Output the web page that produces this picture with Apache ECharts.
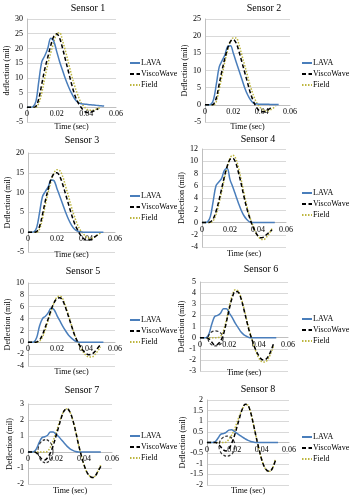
<!DOCTYPE html>
<html>
<head>
<meta charset="utf-8">
<script src="https://cdn.jsdelivr.net/npm/echarts@6/dist/echarts.min.js"></script>
<style>
  html, body {margin: 0; padding: 0; background: #fff;}
  #chart {width: 352px; height: 500px;}
</style>
</head>
<body>
<div id="chart"></div>
<script>
// time axis (sec)
const time = [0, 0.002, 0.004, 0.006, 0.008, 0.010, 0.012, 0.014, 0.016, 0.018, 0.020, 0.022, 0.024, 0.026,
  0.028, 0.030, 0.032, 0.034, 0.036, 0.038, 0.040, 0.042, 0.044, 0.046, 0.048, 0.050, 0.052];

const sensorNames = ['Sensor 1', 'Sensor 2', 'Sensor 3', 'Sensor 4', 'Sensor 5', 'Sensor 6', 'Sensor 7', 'Sensor 8'];
const legendNames = ['LAVA', 'ViscoWave', 'Field'];
const xAxisName = 'Time (sec)';
const yAxisNames = ['deflection (mil)', 'Deflection (mil)', 'Deflection (mil)', 'Deflection (mil)',
  'Deflection (mil)', 'Deflection (mil)', 'Deflection (mil)', 'Deflection (mil)'];
const yMin = [-5, -5, -5, -4, -4, -3, -2, -2];
const yMax = [30, 25, 20, 12, 10, 5, 3, 2];
const yStep = [5, 5, 5, 2, 2, 1, 1, 0.5];

// deflection (mil)
const lava1 = [0, 0, 0.2, 2, 9, 15.5, 17.5, 20, 23.5, 22.5, 19, 15.5, 12.5, 9.5, 7, 4.8, 3, 1.8, 1.3, 1.1, 1, 0.9, 0.8, 0.7, 0.6, 0.5, 0.4];
const visco1 = [0, 0, 0, 0.3, 3, 8, 13, 17, 21, 24, 25, 23.5, 20, 16, 12, 8, 4.5, 2, 0.3, -1, -1.7, -1.8, -1.5, -1, -0.5, null, null];
const field1 = [0, 0, 0, 0, 1.5, 5, 10, 14.5, 18.5, 22, 25, 25.3, 22.5, 19, 15, 11, 7.5, 4.5, 2, 0.5, -0.5, -1, -1, -0.8, -0.4, 0, null];

const lava2 = [0, 0, 0.1, 1.5, 6, 11, 12.8, 14.5, 17, 17.2, 15, 12.5, 10, 7.5, 5, 3, 1.5, 0.6, 0.3, 0.2, 0.2, 0.2, 0.2, 0.1, 0.1, 0.1, 0.1];
const visco2 = [0, 0, 0, 0.2, 2, 6, 10, 13.5, 16.5, 18.5, 19, 18, 15.5, 12.5, 9.5, 6.5, 3.5, 1.2, -0.5, -1.6, -2, -2, -1.6, -1, -0.5, null, null];
const field2 = [0, 0, 0, 0, 1, 4.5, 8.5, 12.5, 16, 18.5, 19.5, 19.5, 17.5, 14.5, 11.5, 8.5, 5.5, 3, 1, -0.3, -1.2, -1.7, -1.8, -1.5, -1, -0.4, null];

const lava3 = [0, 0, 0.1, 1.2, 5, 9, 10.3, 11.5, 13.2, 13, 11, 9, 7, 5, 3.2, 1.8, 0.8, 0.3, 0.1, 0, 0, 0, 0, 0, 0, 0, 0];
const visco3 = [0, 0, 0, 0.2, 1.5, 4.5, 8, 11, 13.5, 14.8, 15, 14, 12, 9.5, 7, 4.5, 2.3, 0.7, -0.6, -1.5, -2, -2, -1.7, -1.2, -0.7, null, null];
const field3 = [0, 0, 0, 0, 0.8, 3.5, 7, 10.2, 13, 15, 15.8, 15.5, 14, 11.5, 9, 6.3, 4, 2, 0.6, -0.4, -1.1, -1.5, -1.5, -1.2, -0.7, -0.2, null];

const lava4 = [0, 0, 0.1, 1, 3.5, 6, 6.6, 7.2, 8.5, 8.8, 7, 5.8, 4.5, 3.2, 2, 1.1, 0.5, 0.1, 0, 0, 0, 0, 0, 0, 0, 0, 0];
const visco4 = [0, 0, 0, 0.1, 0.6, 1.8, 3.5, 5.5, 7.5, 9.2, 10.3, 10.5, 9.8, 8.2, 6.3, 4.2, 2.3, 0.8, -0.5, -1.5, -2.2, -2.5, -2.4, -2, -1.6, -1.2, null];
const field4 = [0, 0, 0, 0, 0.3, 1.3, 3, 5, 7.2, 9, 10.5, 11, 10.5, 9, 7, 4.8, 2.7, 1, -0.3, -1.4, -2.2, -2.7, -2.8, -2.4, -1.8, -1, null];

const lava5 = [0, 0, 0.05, 0.8, 2.8, 4, 4.4, 5, 5.8, 5.5, 4.5, 3.6, 2.7, 1.9, 1.2, 0.7, 0.3, 0.1, 0, 0, 0, 0, 0, 0, 0, 0, 0];
const visco5 = [0, 0, 0, 0.05, 0.4, 1.3, 2.6, 4, 5.5, 6.7, 7.4, 7.5, 7, 5.8, 4.3, 2.8, 1.3, 0.2, -0.7, -1.4, -1.9, -2.1, -2, -1.6, -1, -0.4, null];
const field5 = [0, 0, 0, 0, 0.2, 0.9, 2.2, 3.8, 5.3, 6.7, 7.6, 7.8, 7.3, 6, 4.5, 2.9, 1.4, 0.2, -0.8, -1.6, -2.2, -2.5, -2.5, -2.1, -1.5, -0.8, null];

const lava6 = [0, 0, 0, 0.3, 1.2, 1.9, 2, 2.2, 2.6, 2.6, 2.2, 1.8, 1.3, 0.9, 0.5, 0.25, 0.1, 0, 0, 0, 0, 0, 0, 0, 0, 0, 0];
const visco6 = [0, 0, 0, -0.1, -0.4, -0.65, -0.6, -0.3, 0.3, 1.4, 2.6, 3.6, 4.15, 4.1, 3.5, 2.5, 1.4, 0.4, -0.4, -1.1, -1.6, -1.95, -2, -1.8, -1.3, -0.6, null];
const field6 = [0, 0, 0, 0, 0, 0, 0, 0.1, 0.6, 1.6, 2.8, 3.8, 4.3, 4.2, 3.6, 2.6, 1.5, 0.5, -0.4, -1.2, -1.8, -2.15, -2.2, -2, -1.5, -0.8, null];

const lava7 = [0, 0, 0.02, 0.2, 0.6, 0.9, 0.95, 1.05, 1.25, 1.25, 1.1, 0.95, 0.75, 0.55, 0.35, 0.2, 0.1, 0.03, 0, 0, 0, 0, 0, 0, 0, 0, 0];
const visco7 = [0, 0, 0, -0.05, -0.25, -0.45, -0.5, -0.35, -0.05, 0.4, 1, 1.6, 2.2, 2.6, 2.7, 2.5, 2, 1.3, 0.5, -0.2, -0.8, -1.25, -1.5, -1.6, -1.5, -1.2, -0.9];
const field7 = [0, 0, 0, 0, 0, 0, 0, 0.05, 0.3, 0.7, 1.2, 1.75, 2.25, 2.6, 2.7, 2.5, 2, 1.3, 0.5, -0.2, -0.8, -1.25, -1.5, -1.6, -1.5, -1.2, -0.8];

const lava8 = [0, 0, 0, 0.03, 0.2, 0.38, 0.42, 0.48, 0.58, 0.6, 0.52, 0.43, 0.34, 0.25, 0.17, 0.1, 0.05, 0.02, 0, 0, 0, 0, 0, 0, 0, 0, 0];
const visco8 = [0, 0, 0, 0, -0.05, -0.2, -0.35, -0.4, -0.3, -0.05, 0.3, 0.75, 1.2, 1.6, 1.8, 1.75, 1.4, 0.85, 0.25, -0.3, -0.8, -1.15, -1.32, -1.35, -1.2, -0.85, null];
const field8 = [0, 0, 0, 0, 0, 0, 0, 0.02, 0.15, 0.35, 0.6, 0.95, 1.3, 1.6, 1.78, 1.75, 1.4, 0.85, 0.25, -0.3, -0.8, -1.15, -1.33, -1.35, -1.2, -0.8, null];

// dashed annotation circles (sensor index, time, deflection)
const circleSensor = [5, 6, 7];
const circleTime = [0.0106, 0.0125, 0.0146];
const circleDefl = [-0.07, 0.05, -0.17];

const lavaAll = [lava1, lava2, lava3, lava4, lava5, lava6, lava7, lava8];
const viscoAll = [visco1, visco2, visco3, visco4, visco5, visco6, visco7, visco8];
const fieldAll = [field1, field2, field3, field4, field5, field6, field7, field8];

// layout
const boxes = [
  [27, 19, 89, 103], [205, 19, 85, 103],
  [28, 153, 87, 99], [202, 149, 84, 98],
  [28, 283, 87, 83], [200, 282, 88, 89],
  [28, 404, 84, 80], [207, 400, 82, 85]
];
const titlePos = [[88, 3], [264, 3], [82, 135], [258, 134], [83, 266], [261, 264], [82, 385], [258, 384]];
const legendPos = [[129, 59], [301, 59], [129, 192], [301, 189], [129, 316], [301, 315], [129, 432], [301, 433]];
const xNameTop = [122.5, 122.5, 250.5, 249.5, 367.5, 368.5, 486.5, 486.5];
const yNameGap = [12, 12, 13, 13, 14, 10, 14, 19];
const circleSize = [[15, 15], [15, 23], [16, 20]];

const font = '"Liberation Serif", "Times New Roman", serif';
const lavaColor = '#4a7ebb';
const fieldColor = '#bdb640';

const pairs = arr => time.map((t, i) => [t, arr[i]]).filter(p => p[1] !== null);

const option = {
  animation: false,
  backgroundColor: '#fff',
  title: [], grid: [], xAxis: [], yAxis: [], legend: [], series: []
};

for (let i = 0; i < 8; i++) {
  const [l, t, w, h] = boxes[i];
  // lift the time axis from the plot bottom up to the zero line
  const zeroLift = h * (0 - yMin[i]) / (yMax[i] - yMin[i]);
  option.title.push({
    text: sensorNames[i], left: titlePos[i][0], top: titlePos[i][1], textAlign: 'center', padding: 0,
    textStyle: {fontFamily: font, fontSize: 10, fontWeight: 'normal', color: '#000'}
  });
  option.title.push({
    text: xAxisName, left: l + w / 2, top: xNameTop[i], textAlign: 'center', padding: 0,
    textStyle: {fontFamily: font, fontSize: 8, fontWeight: 'normal', color: '#000'}
  });
  option.grid.push({left: l, top: t, width: w, height: h});
  option.xAxis.push({
    gridIndex: i, type: 'value', min: 0, max: 0.06, interval: 0.02,
    position: 'bottom', offset: -zeroLift,
    axisLine: {onZero: false, lineStyle: {color: '#bfbfbf'}},
    axisTick: {show: false},
    splitLine: {show: false},
    axisLabel: {fontFamily: font, fontSize: 8, color: '#000', margin: 3,
      formatter: v => String(Math.round(v * 100) / 100)}
  });
  option.yAxis.push({
    gridIndex: i, type: 'value', min: yMin[i], max: yMax[i], interval: yStep[i],
    axisLine: {show: true, onZero: false, lineStyle: {color: '#bfbfbf'}},
    axisTick: {show: false},
    splitLine: {lineStyle: {color: '#d9d9d9'}},
    axisLabel: {fontFamily: font, fontSize: 8, color: '#000', margin: 4},
    name: yAxisNames[i], nameLocation: 'middle', nameGap: yNameGap[i],
    nameTextStyle: {fontFamily: font, fontSize: 8, color: '#000'}
  });
  option.legend.push({
    orient: 'vertical', left: legendPos[i][0], top: legendPos[i][1], padding: 0,
    itemWidth: 10, itemHeight: 8, itemGap: 3, data: legendNames,
    itemStyle: {opacity: 0},
    textStyle: {fontFamily: font, fontSize: 8, color: '#000', padding: [0, 0, 0, -4]}
  });
  option.series.push(
    {
      name: 'LAVA', type: 'line', xAxisIndex: i, yAxisIndex: i, data: pairs(lavaAll[i]),
      smooth: 0.35, symbol: 'none', lineStyle: {color: lavaColor, width: 1.5}, itemStyle: {color: lavaColor}, z: 3
    },
    {
      name: 'ViscoWave', type: 'line', xAxisIndex: i, yAxisIndex: i, data: pairs(viscoAll[i]),
      smooth: 0.35, symbol: 'none', lineStyle: {color: '#000', width: 1.5, type: [4, 2.5]}, itemStyle: {color: '#000'}, z: 4
    },
    {
      name: 'Field', type: 'line', xAxisIndex: i, yAxisIndex: i, data: pairs(fieldAll[i]),
      smooth: 0.35, symbol: 'none', lineStyle: {color: fieldColor, width: 1.5, type: [1.5, 1.5]}, itemStyle: {color: fieldColor}, z: 2
    }
  );
}

circleSensor.forEach((s, k) => {
  option.series.push({
    type: 'scatter', xAxisIndex: s, yAxisIndex: s, silent: true, z: 5,
    data: [[circleTime[k], circleDefl[k]]],
    symbol: 'circle', symbolSize: circleSize[k],
    itemStyle: {color: 'rgba(0,0,0,0)', borderColor: '#000', borderWidth: 1.2, borderType: [3, 2]}
  });
});

const chart = echarts.init(document.getElementById('chart'));
chart.setOption(option);
</script>
</body>
</html>
